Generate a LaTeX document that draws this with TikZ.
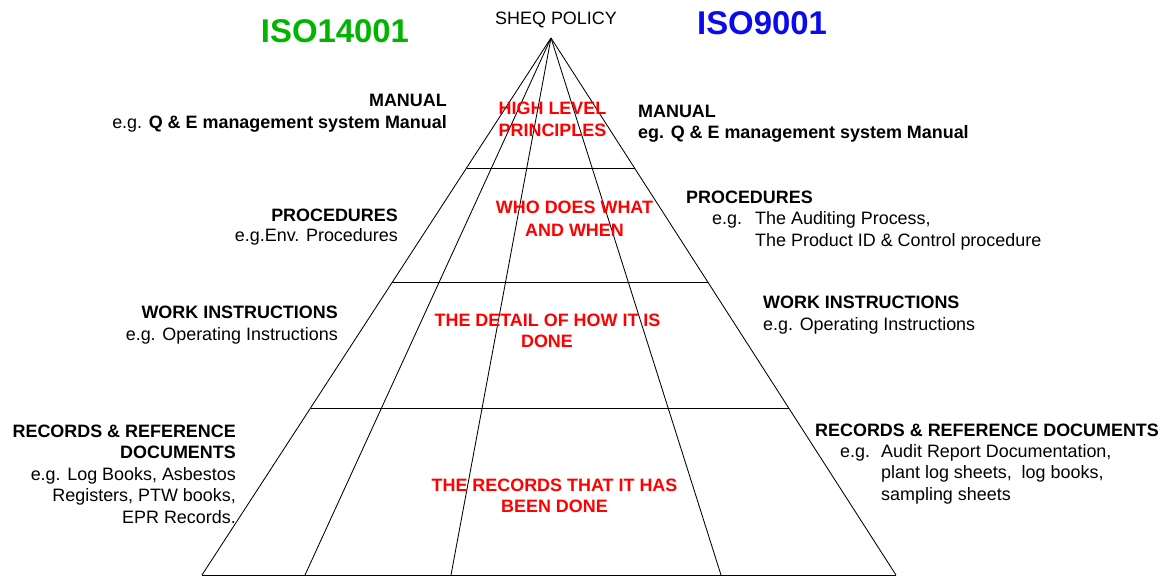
\documentclass[tikz,border=0pt]{standalone}
\usepackage{fontspec}
\setmainfont{Liberation Sans}
\usetikzlibrary{calc}
\definecolor{isogreen}{RGB}{0,180,0}
\definecolor{isoblue}{RGB}{10,10,235}
\definecolor{lblred}{RGB}{255,0,0}
\begin{document}
\begin{tikzpicture}[x=1bp,y=-1bp,
  lbl/.style={inner sep=0pt,font=\fontsize{18}{21.6}\selectfont,text=black},
  lblb/.style={inner sep=0pt,font=\fontsize{18}{21.6}\selectfont\bfseries,text=black},
  redtxt/.style={lblb,text=lblred,anchor=base},
  lft/.style={anchor=base east},
  rgt/.style={anchor=base west},
  isotitle/.style={inner sep=0pt,anchor=base,font=\fontsize{33}{40}\selectfont\bfseries},
  edge/.style={line width=0.85bp,draw=black}]
\useasboundingbox (0,0) rectangle (1170,576);

% pyramid
\coordinate (apex) at (551,38);
\coordinate (bl) at (202,575);
\coordinate (b1) at (305,575);
\coordinate (b2) at (451,575);
\coordinate (b3) at (721,575);
\coordinate (br) at (896,575);
\draw[edge] (apex) -- (bl);
\draw[edge] (apex) -- (b1);
\draw[edge] (apex) -- (b2);
\draw[edge] (apex) -- (b3);
\draw[edge] (apex) -- (br);
\draw[edge] (bl) -- (br);
\foreach \t in {0.2421,0.4544,0.689}
  \draw[edge] ($(apex)!\t!(bl)$) -- ($(apex)!\t!(br)$);

% titles
\node[lbl,anchor=base] (sheq) at (556,25) {SHEQ POLICY};
\node[isotitle,text=isogreen] (iso14) at (335,43) {ISO14001};
\node[isotitle,text=isoblue] (iso9) at (762,35) {ISO9001};

% red level texts
\node[redtxt] (r1a) at (552.5,115) {HIGH LEVEL};
\node[redtxt] (r1b) at (552.5,137) {PRINCIPLES};
\node[redtxt] (r2a) at (574.5,214) {WHO DOES WHAT};
\node[redtxt] (r2b) at (574.5,237) {AND WHEN};
\node[redtxt] (r3a) at (547.5,327) {THE DETAIL OF HOW IT IS};
\node[redtxt] (r3b) at (547,348) {DONE};
\node[redtxt] (r4a) at (554.5,491) {THE RECORDS THAT IT HAS};
\node[redtxt] (r4b) at (554.5,512) {BEEN DONE};

% left side (ISO14001)
\node[lblb,lft] (lman1) at (447,107) {MANUAL};
\node[lbl,lft] (lman2) at (447,129) {e.g. \textbf{Q \& E management system Manual}};
\node[lblb,lft] (lproc1) at (398,222) {PROCEDURES};
\node[lbl,lft] (lproc2) at (398,242) {e.g.Env. Procedures};
\node[lblb,lft] (lwork1) at (338,319) {WORK INSTRUCTIONS};
\node[lbl,lft] (lwork2) at (338,341) {e.g. Operating Instructions};
\node[lblb,lft] (lrec1) at (236,437) {RECORDS \& REFERENCE};
\node[lblb,lft] (lrec2) at (236,458) {DOCUMENTS};
\node[lbl,lft] (lrec3) at (236,480) {e.g. Log Books, Asbestos};
\node[lbl,lft] (lrec4) at (236,501) {Registers, PTW books,};
\node[lbl,lft] (lrec5) at (236,523) {EPR Records.};

% right side (ISO9001)
\node[lblb,rgt] (rman1) at (638,118) {MANUAL};
\node[lblb,rgt] (rman2) at (638,139) {eg. Q \& E management system Manual};
\node[lblb,rgt] (rproc1) at (686,204) {PROCEDURES};
\node[lbl,rgt] (rproc2a) at (712,225) {e.g.};
\node[lbl,rgt] (rproc2b) at (755,225) {The Auditing Process,};
\node[lbl,rgt] (rproc3) at (755,247) {The Product ID \& Control procedure};
\node[lblb,rgt] (rwork1) at (763,309) {WORK INSTRUCTIONS};
\node[lbl,rgt] (rwork2) at (763,331) {e.g. Operating Instructions};
\node[lblb,rgt] (rrec1) at (815,436) {RECORDS \& REFERENCE DOCUMENTS};
\node[lbl,rgt] (rrec2a) at (840,457) {e.g.};
\node[lbl,rgt] (rrec2b) at (881,457) {Audit Report Documentation,};
\node[lbl,rgt] (rrec3) at (881,478) {plant log sheets,\ \ log books,};
\node[lbl,rgt] (rrec4) at (881,500) {sampling sheets};
\end{tikzpicture}
\end{document}
